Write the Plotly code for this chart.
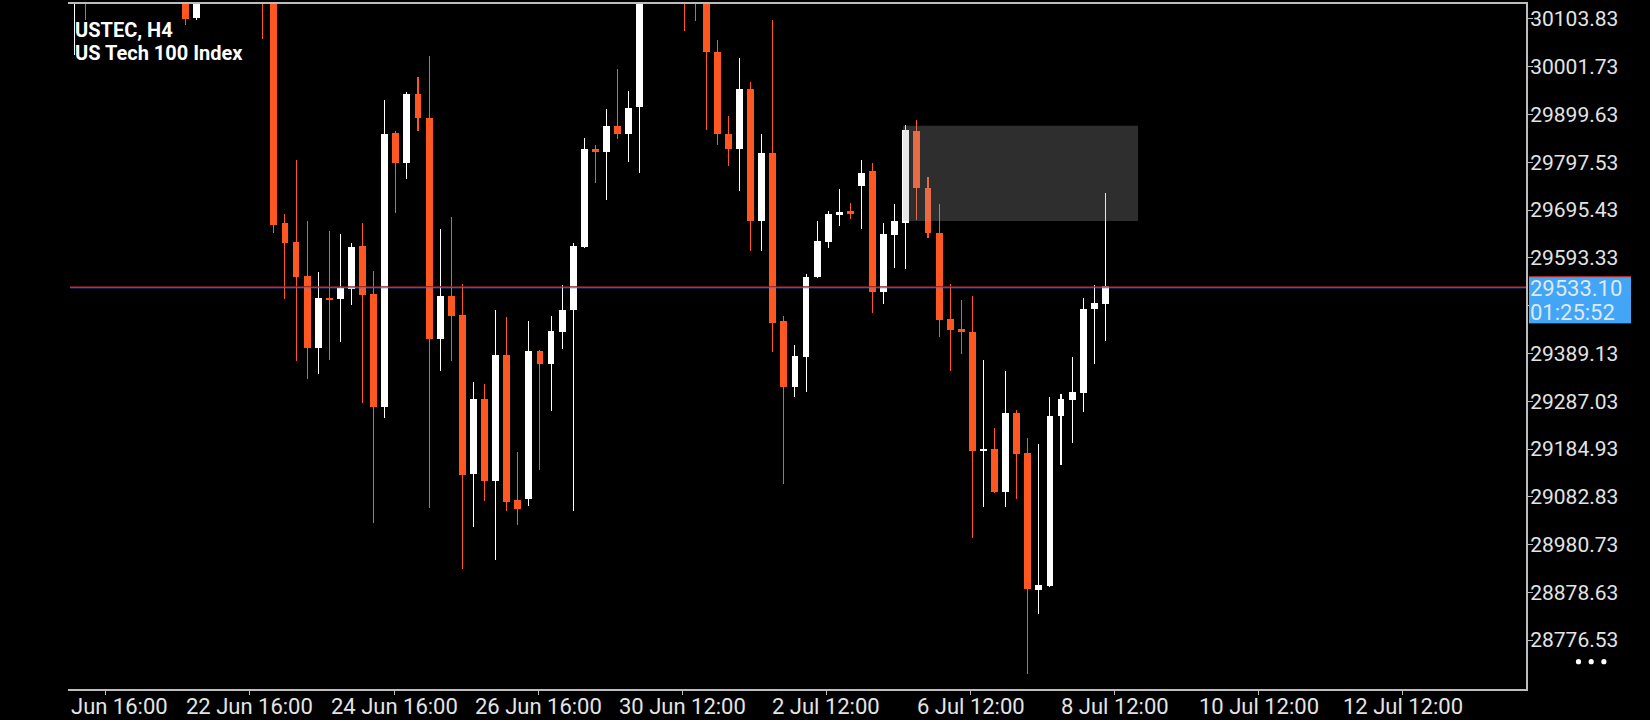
import plotly.graph_objects as go

# ---------------- data (USTEC H4, bar index 0 = leftmost visible bar) ----------------
opens = [30150, 30240, None, None, None, None, None, None, None, None,
         30180, 30106.9, None, None, None, None, None, 30250, 30190, 29667.5,
         29626.3, 29554.1, 29401.3, 29507.0, 29504.4, 29527.8, 29617.8, 29515.6, 29273.8, 29860.7,
         29795.9, 29944.1, 29892.5, 29421.0, 29511.9, 29470.6, 29131.3, 29292.5, 29116.3, 29386.3,
         29075.0, 29077.8, 29394.7, 29365.7, 29436.0, 29482.8, 29616.9, 29825.0, 29819.4, 29875.6,
         29857.8, 29915.0, None, None, None, 30230, 30190, 30160, 30033.2, 29858.8,
         29825.9, 29954.4, 29672.2, 29816.6, 29458.5, 29316.9, 29382.5, 29552.2, 29627.2, 29685.4,
         29692.8, 29747.2, 29778.1, 29521.3, 29642.2, 29668.5, 29865.3, 29743.5, 29645.9, 29462.2,
         29441.6, 29435.0, 29180.0, 29185.6, 29093.8, 29262.5, 29177.2, 28882.8, 28891.2, 29255.0,
         29290.6, 29305.6, 29484.7, 29495.0]
highs = [30230, 30260, None, None, None, None, None, None, None, None,
         30200, 30210, None, None, None, None, None, 30270, 30200, 29686.3,
         29801.6, 29671.3, 29562.5, 29649.7, 29644.1, 29624.4, 29667.5, 29564.4, 29930.9, 29865.3,
         29947.9, 29980.7, 30024.7, 29654.4, 29681.6, 29537.2, 29328.2, 29324.4, 29481.9, 29466.9,
         29179.1, 29458.5, 29396.6, 29468.8, 29535.4, 29624.4, 29848.5, 29835.4, 29910.4, 29997.6,
         29950.7, 30190, None, None, None, 30260, 30210, 30175, 30059.4, 29897.2,
         30021.0, 29969.4, 29858.8, 30101.6, 29468.8, 29406.9, 29558.8, 29671.3, 29692.8, 29739.7,
         29709.7, 29801.6, 29795.1, 29667.5, 29707.8, 29877.5, 29886.9, 29766.9, 29707.8, 29537.2,
         29503.5, 29511.9, 29375.0, 29230.6, 29351.6, 29269.1, 29209.1, 29195.9, 29296.3, 29302.8,
         29381.6, 29507.2, 29535.4, 29731.3]
lows = [30027.3, 30102.5, None, None, None, None, None, None, None, None,
        30091.5, 30102.4, None, None, None, None, None, 30060.0, 29646.9, 29506.3,
        29372.2, 29333.8, 29346.0, 29376.0, 29414.4, 29493.2, 29284.1, 29027.2, 29250.3, 29689.1,
        29762.2, 29864.4, 29059.1, 29350.6, 29372.2, 28928.8, 29017.8, 29073.1, 28947.5, 29052.5,
        29022.5, 29062.8, 29139.7, 29267.2, 29399.4, 29052.5, 29615.1, 29752.8, 29717.2, 29846.6,
        29797.8, 29774.4, None, None, None, 30079.1, 30098.8, 29866.3, 29834.4, 29789.4,
        29735.9, 29608.5, 29608.5, 29392.8, 29109.7, 29295.3, 29307.5, 29549.4, 29615.1, 29661.9,
        29676.9, 29655.3, 29476.3, 29495.0, 29571.9, 29570.0, 29674.1, 29635.7, 29424.7, 29352.5,
        29387.2, 28995.6, 29061.9, 29091.0, 29061.9, 29077.8, 28704.7, 28833.1, 28890.0, 29150.0,
        29196.9, 29263.5, 29365.7, 29416.3]
closes = [30210, 30150, None, None, None, None, None, None, None, None,
          30104.4, 30190, None, None, None, None, None, 30180, 29663.8, 29625.4,
          29553.2, 29401.3, 29507.2, 29504.5, 29529.7, 29616.0, 29514.7, 29273.8, 29858.8, 29795.9,
          29944.1, 29891.6, 29421.0, 29511.9, 29469.7, 29129.4, 29292.5, 29116.3, 29386.3, 29071.3,
          29056.3, 29394.7, 29367.5, 29436.8, 29481.9, 29617.8, 29825.0, 29819.4, 29875.6, 29857.8,
          29914.1, 30160, None, None, None, 30170, 30150, 30032.2, 29857.8, 29825.9,
          29954.4, 29672.2, 29816.6, 29454.7, 29316.9, 29383.5, 29552.2, 29629.1, 29686.3, 29691.0,
          29687.2, 29775.4, 29521.3, 29644.1, 29671.3, 29867.2, 29742.5, 29646.9, 29461.3, 29439.7,
          29436.0, 29180.0, 29185.6, 29093.8, 29262.5, 29173.5, 28886.5, 28894.0, 29256.0, 29292.5,
          29306.6, 29483.8, 29496.9, 29533.1]

bid = 29533.10
countdown = "01:25:52"
symbol = "USTEC, H4"
description = "US Tech 100 Index"

price_ticks = [30103.83, 30001.73, 29899.63, 29797.53, 29695.43, 29593.33, 29491.23,
               29389.13, 29287.03, 29184.93, 29082.83, 28980.73, 28878.63, 28776.53]
time_labels = ["20 Jun 16:00", "22 Jun 16:00", "24 Jun 16:00", "26 Jun 16:00", "30 Jun 12:00",
               "2 Jul 12:00", "6 Jul 12:00", "8 Jul 12:00", "10 Jul 12:00", "12 Jul 12:00"]
time_label_bars = [3, 16, 29, 42, 55, 68, 81, 94, 107, 120]

# zone rectangle (bar index / price)
zone_bar_start, zone_bar_end = 74.75, 95.95
zone_low, zone_high = 29672.2, 29875.9

# ---------------- styling ----------------
BULL = "#ffffff"
BEAR = "#ff5722"
FG = "#e4e4e4"
FRAME = "#bdbdbd"
ASK_RED = "#8e1c1c"
BOX_RED = "#e53935"
BID_BLUE = "#2d7ff9"
LABEL_BLUE = "#42a5f5"
FONT = "Roboto"
W, H = 1650, 720
ML, MR, MT, MB = 68, 124, 2, 31
X_RANGE = [-0.568, 130.94]
Y_RANGE = [28672.1, 30135.8]
TICK_SHIFT = -0.16
plot_h = H - MT - MB


def ypx(p):
    return MT + (Y_RANGE[1] - p) / (Y_RANGE[1] - Y_RANGE[0]) * plot_h


bid_px = ypx(bid)
row = round(bid_px) + 1      # integer pixel row of the bid line


def off(r):
    # pixel offset (positive = up) from the bid anchor to pixel boundary r
    return bid_px - r


fig = go.Figure()
valid = [i for i in range(len(opens)) if opens[i] is not None]
for up, color in ((True, BULL), (False, BEAR)):
    idx = [i for i in valid if (closes[i] >= opens[i]) == up]
    # wicks (very thin bars -> snapped to a single crisp pixel column)
    fig.add_trace(go.Bar(x=idx, base=[lows[i] for i in idx],
                         y=[highs[i] - lows[i] for i in idx],
                         width=0.005, marker=dict(color=color, line=dict(width=0)),
                         hoverinfo="skip", showlegend=False))
    # bodies
    fig.add_trace(go.Bar(x=idx,
                         base=[min(opens[i], closes[i]) for i in idx],
                         y=[max(abs(closes[i] - opens[i]), 2.0) for i in idx],
                         width=0.62, marker=dict(color=color, line=dict(width=0)),
                         hoverinfo="skip", showlegend=False))

shapes = []
# ask (red, one row above) / bid (blue) lines as crisp 1px rects
for col, r in ((ASK_RED, row - 1), (BID_BLUE, row)):
    shapes.append(dict(type="rect", xref="paper", x0=0.0014, x1=1,
                       yref="y", ysizemode="pixel", yanchor=bid, y0=off(r), y1=off(r + 1),
                       fillcolor=col, line=dict(width=0), layer="above"))
# zone
shapes.append(dict(type="rect", xref="x", yref="y", x0=zone_bar_start, x1=zone_bar_end,
                   y0=zone_low, y1=zone_high, fillcolor="rgba(168,165,165,0.28)",
                   line=dict(width=0), layer="above"))
# price label boxes (ask behind bid)
for col, top in ((BOX_RED, row - 11), (LABEL_BLUE, row - 10)):
    shapes.append(dict(type="rect", xref="paper", xsizemode="pixel", xanchor=1, x0=3, x1=105,
                       yref="y", ysizemode="pixel", yanchor=bid, y0=off(top), y1=off(row + 36),
                       fillcolor=col, line=dict(width=0), layer="above"))
# three dots
for k in range(3):
    cx = 52.5 + 12.7 * k
    shapes.append(dict(type="circle", xref="paper", xsizemode="pixel", xanchor=1,
                       x0=cx - 2.6, x1=cx + 2.6, yref="paper", ysizemode="pixel", yanchor=0,
                       y0=24.7, y1=29.9, fillcolor="#ffffff", line=dict(width=0), layer="above"))

annotations = []
# title
annotations.append(dict(xref="paper", yref="paper", x=0, y=1, xanchor="left", yanchor="top",
                        xshift=5, yshift=-12, text="<b>%s</b>" % symbol, showarrow=False,
                        font=dict(family=FONT, size=20, color="#ffffff")))
annotations.append(dict(xref="paper", yref="paper", x=0, y=1, xanchor="left", yanchor="top",
                        xshift=5, yshift=-35, text="<b>%s</b>" % description, showarrow=False,
                        font=dict(family=FONT, size=20, color="#ffffff")))
# time labels
for k, (lab, b) in enumerate(zip(time_labels, time_label_bars)):
    if k == 0:
        vis = lab.split(" ", 1)[1]
        annotations.append(dict(xref="x", yref="paper", x=b + TICK_SHIFT, y=0, xanchor="right",
                                yanchor="middle", xshift=64, yshift=-17, text=vis, showarrow=False,
                                font=dict(family=FONT, size=22, color=FG)))
    else:
        annotations.append(dict(xref="x", yref="paper", x=b + TICK_SHIFT, y=0, xanchor="center",
                                yanchor="middle", yshift=-17, text=lab, showarrow=False,
                                font=dict(family=FONT, size=22, color=FG)))
# bid label text
annotations.append(dict(xref="paper", yref="y", x=1, y=bid, xanchor="left", yanchor="middle",
                        xshift=2, yshift=off(row + 1.5), text="%.2f" % bid, showarrow=False,
                        font=dict(family=FONT, size=22, color="#dde9f7")))
annotations.append(dict(xref="paper", yref="y", x=1, y=bid, xanchor="left", yanchor="middle",
                        xshift=2, yshift=off(row + 25.2), text=countdown, showarrow=False,
                        font=dict(family=FONT, size=22, color="#dde9f7")))

ticktext = ["" if abs(v - bid) < 60 else "%.2f" % v for v in price_ticks]

fig.update_layout(
    width=W, height=H, margin=dict(l=ML, r=MR, t=MT, b=MB, pad=0),
    paper_bgcolor="#000000", plot_bgcolor="#000000",
    barmode="overlay", showlegend=False, bargap=0, bargroupgap=0,
    shapes=shapes, annotations=annotations,
    xaxis=dict(range=X_RANGE, showgrid=False, zeroline=False, showline=True, mirror=True,
               linecolor=FRAME, linewidth=2, tickmode="array",
               tickvals=[b + TICK_SHIFT for b in time_label_bars], ticktext=[""] * len(time_labels),
               ticks="outside", ticklen=4, tickcolor=FRAME, tickwidth=1, showticklabels=False,
               fixedrange=True),
    yaxis=dict(range=Y_RANGE, side="right", showgrid=False, zeroline=False, showline=True,
               linecolor=FRAME, linewidth=2, tickmode="array", tickvals=price_ticks,
               ticktext=ticktext, ticks="outside", ticklen=5, tickcolor=FRAME, tickwidth=1,
               ticklabelstandoff=-7,
               tickfont=dict(family=FONT, size=21, color=FG), fixedrange=True),
)

fig.write_html("out.html", config={"displayModeBar": False},
               post_script="document.body.style.margin='0px';document.body.style.overflow='hidden';")
